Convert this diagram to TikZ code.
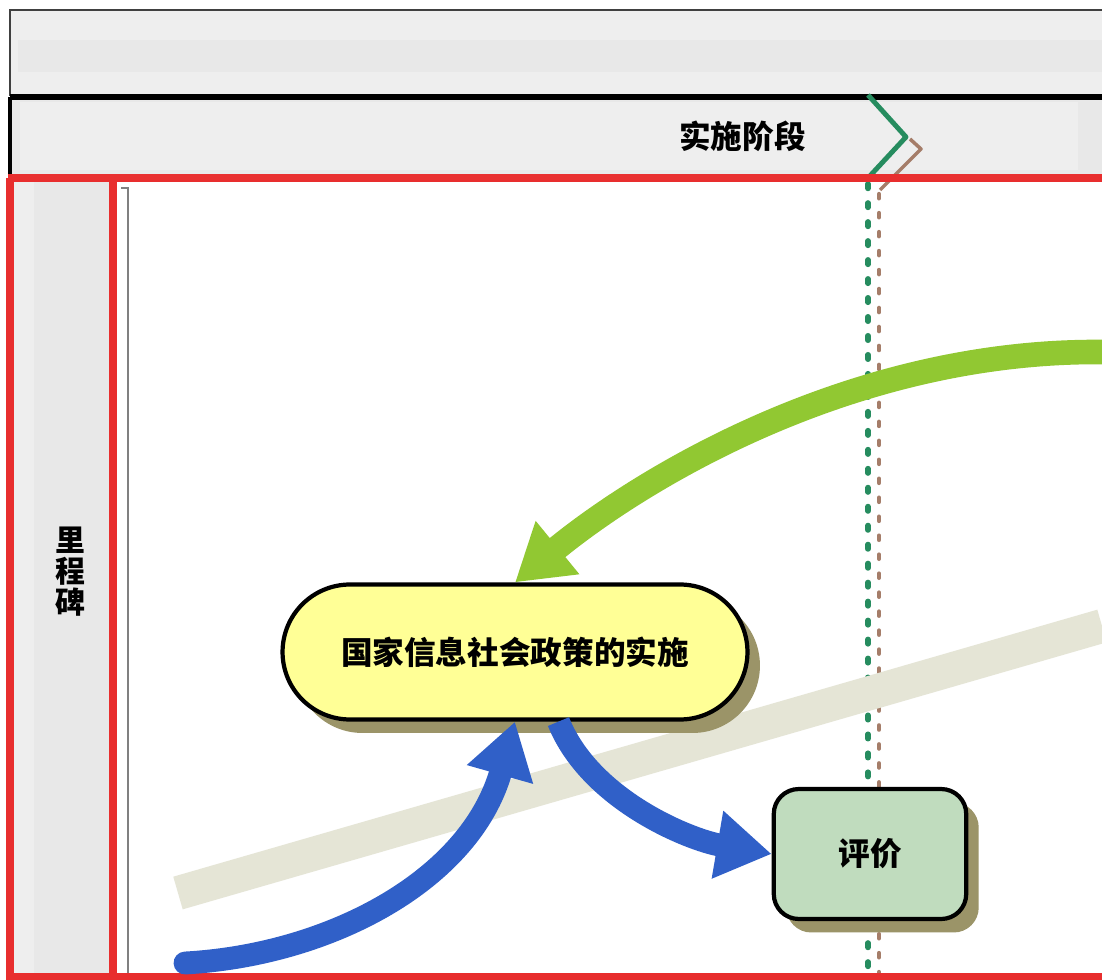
\documentclass[tikz,border=0pt]{standalone}
\usepackage{fontspec}
\newfontfamily\cjk{Noto Sans CJK SC}
\usetikzlibrary{arrows.meta,shadows}
\definecolor{HeadGray}{RGB}{238,238,238}
\definecolor{HeadDark}{RGB}{232,232,232}
\definecolor{LaneRed}{RGB}{232,46,46}
\definecolor{MarkGreen}{RGB}{38,140,95}
\definecolor{MarkBrown}{RGB}{165,125,105}
\definecolor{ArrowGreen}{RGB}{145,200,50}
\definecolor{ArrowBlue}{RGB}{48,96,200}
\definecolor{BandBeige}{RGB}{229,229,214}
\definecolor{PolicyYellow}{RGB}{255,255,150}
\definecolor{EvalGreen}{RGB}{192,220,190}
\definecolor{ShadowOlive}{RGB}{155,148,104}
\newcommand\DottedLane[4]{%
    \draw[#1,line width=#4,line cap=round,dash pattern=on 2.5pt off 8.3pt] (#2,#3) -- (#2,978);
}

\begin{document}
\begin{tikzpicture}[x=0.02cm,y=-0.02cm,
    CjkText/.style={font=\cjk\bfseries\fontsize{18}{20}\selectfont},
    TaskNode/.style={CjkText,draw=black,line width=2.4pt,
        drop shadow={shadow xshift=0.25cm,shadow yshift=-0.27cm,fill=ShadowOlive,opacity=1}},
    FlowArrow/.style={line width=13pt,-{Triangle[length=1.1cm,width=1.3cm]}}]
    \useasboundingbox[fill=white] (0,0) rectangle (1102,980);
    % header bands
    \fill[HeadGray] (10,10) rectangle (1102,96);
    \fill[HeadDark] (18,40) rectangle (1102,72);
    \draw[black!75,line width=0.8pt] (10,96) -- (10,10) -- (1102,10);
    \fill[HeadDark] (10,96) rectangle (1102,176);
    \fill[HeadGray] (20,102) rectangle (1078,170);
    \draw[black,line width=3pt] (10,97) -- (1102,97);
    \draw[black,line width=2.5pt] (10,97) -- (10,178);
    \node[CjkText,anchor=east] (PhaseLabel) at (812,136) {实施阶段};
    % lane header
    \fill[HeadDark] (12,180) rectangle (112,976);
    \fill[HeadGray] (14,180) rectangle (34,976);
    \node[font=\cjk\bfseries\fontsize{17}{17.6}\selectfont,align=center] (Milestone) at (70,572) {里\\程\\碑};
    \draw[black!50,line width=1.2pt] (121,188) -- (128,188) -- (128,978);
    % phase separator
    \begin{scope}[line join=round] % green
        \draw[MarkGreen,line width=2.8pt] (868,95) -- (906,137) -- (868,178);
        \DottedLane{MarkGreen}{868}{184}{3.2pt}
    \end{scope}
    \begin{scope}[line join=round] % brown
        \draw[MarkBrown,line width=2pt] (910,139) -- (921,149) -- (880,190);
        \DottedLane{MarkBrown}{879}{194}{2.4pt}
    \end{scope}
    % red pool frame
    \draw[LaneRed,line width=4pt] (8,178) -- (1102,178);
    \draw[LaneRed,line width=4pt] (10,178) -- (10,977) -- (1102,977);
    \draw[LaneRed,line width=4pt] (113,178) -- (113,977);
    % milestone band
    \draw[BandBeige,line width=0.68cm] (178,893) -- (1102,626);
    % tasks
    \node[TaskNode,fill=PolicyYellow,rounded corners=1.35cm,minimum width=9.3cm,minimum height=2.7cm] (Policy) at (515,652) {国家信息社会政策的实施};
    \node[TaskNode,fill=EvalGreen,rounded corners=0.5cm,minimum width=3.85cm,minimum height=2.6cm] (Eval) at (870,854) {评价};
    % flows
    \coordinate (GreenStart) at (1102,352);
    \coordinate (BlueStart) at (185,963);
    \draw[FlowArrow,ArrowGreen,line width=14pt] (GreenStart) .. controls (850,350) and (640,480) .. (Policy.north);
    \draw[FlowArrow,ArrowBlue,line cap=round] (BlueStart) .. controls (330,955) and (470,880) .. (Policy.south);
    \draw[FlowArrow,ArrowBlue] (Policy.-58) .. controls (590,800) and (690,840) .. (Eval.west);
\end{tikzpicture}
\end{document}
